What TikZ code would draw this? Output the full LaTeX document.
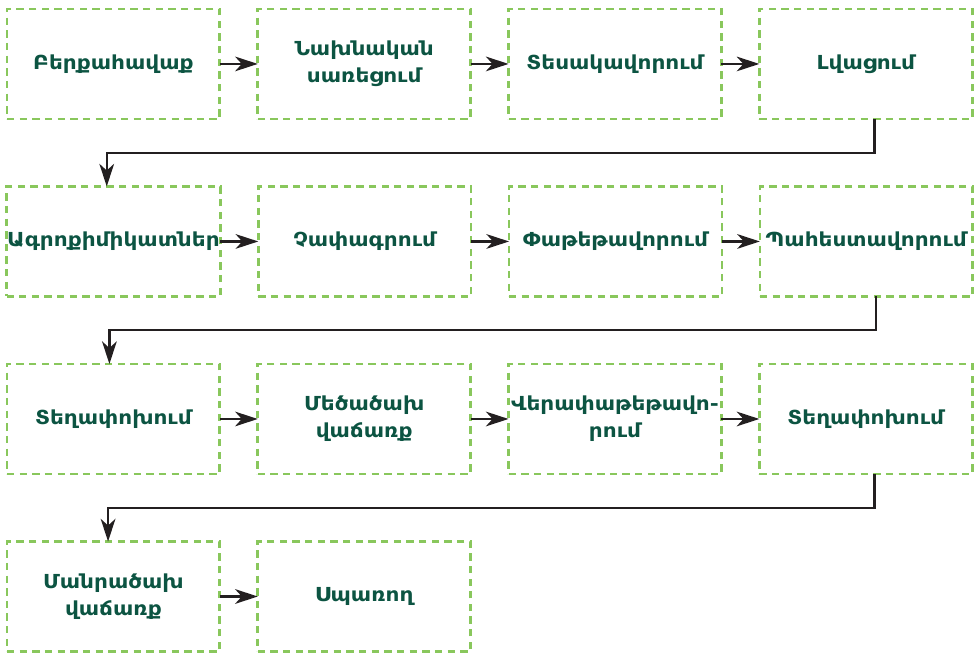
\documentclass[tikz,border=0pt]{standalone}
\usepackage{fontspec}
\setmainfont{DejaVu Sans}[FakeStretch=1.12]
\usetikzlibrary{arrows.meta, positioning, calc}
\definecolor{boxgreen}{RGB}{137,199,92}
\definecolor{textgreen}{RGB}{12,84,66}
\definecolor{arrowgray}{RGB}{35,31,32}

\begin{document}
\begin{tikzpicture}[font=\fontsize{14.5}{20.5}\selectfont\bfseries, node distance=50.75pt and 28.5pt,
    >={Stealth[length=17pt, width=11pt, inset=5pt]},
    box/.style={draw=boxgreen, line width=2pt, dash pattern=on 5.5pt off 4pt, outer sep=0pt,
      inner sep=0.5pt, minimum width=159.75pt, minimum height=82.5pt, align=center, text=textgreen},
    link/.style={draw=arrowgray, line width=1.7pt}]
    % row 1
    \node[box] (harvest) {Բերքահավաք};
    \node[box, right=of harvest] (precool) {Նախնական\\սառեցում};
    \node[box, right=of precool] (sort) {Տեսակավորում};
    \node[box, right=of sort] (wash) {Լվացում};
    % row 2
    \node[box, below=of harvest] (agro) {Ագրոքիմիկատներ};
    \node[box, right=of agro] (size) {Չափագրում};
    \node[box, right=of size] (pack) {Փաթեթավորում};
    \node[box, right=of pack] (store) {Պահեստավորում};
    % row 3
    \node[box, below=of agro] (move) {Տեղափոխում};
    \node[box, right=of move] (whole) {Մեծածախ\\վաճառք};
    \node[box, right=of whole] (repack) {Վերափաթեթավո-\\րում};
    \node[box, right=of repack] (moveb) {Տեղափոխում};
    % row 4
    \node[box, below=of move] (retail) {Մանրածախ\\վաճառք};
    \node[box, right=of retail] (consumer) {Սպառող};

    \useasboundingbox ($(harvest.north west)+(-5.25pt,6.75pt)$) rectangle ++(730.5pt,-491.25pt);

    \draw[link, ->] (harvest) -- (precool);
    \draw[link, ->] (precool) -- (sort);
    \draw[link, ->] (sort) -- (wash);
    \draw[link, ->] ([xshift=6.5pt]wash.south) -- ++(0,-25.4pt) -| ([xshift=-5pt]agro.north);
    \draw[link, ->] (agro) -- (size);
    \draw[link, ->] (size) -- (pack);
    \draw[link, ->] (pack) -- (store);
    \draw[link, ->] ([xshift=7.5pt]store.south) -- ++(0,-25.4pt) -| ([xshift=-3pt]move.north);
    \draw[link, ->] (move) -- (whole);
    \draw[link, ->] (whole) -- (repack);
    \draw[link, ->] (repack) -- (moveb);
    \draw[link, ->] ([xshift=6.5pt]moveb.south) -- ++(0,-25.4pt) -| ([xshift=-4pt]retail.north);
    \draw[link, ->] (retail) -- (consumer);
\end{tikzpicture}
\end{document}
